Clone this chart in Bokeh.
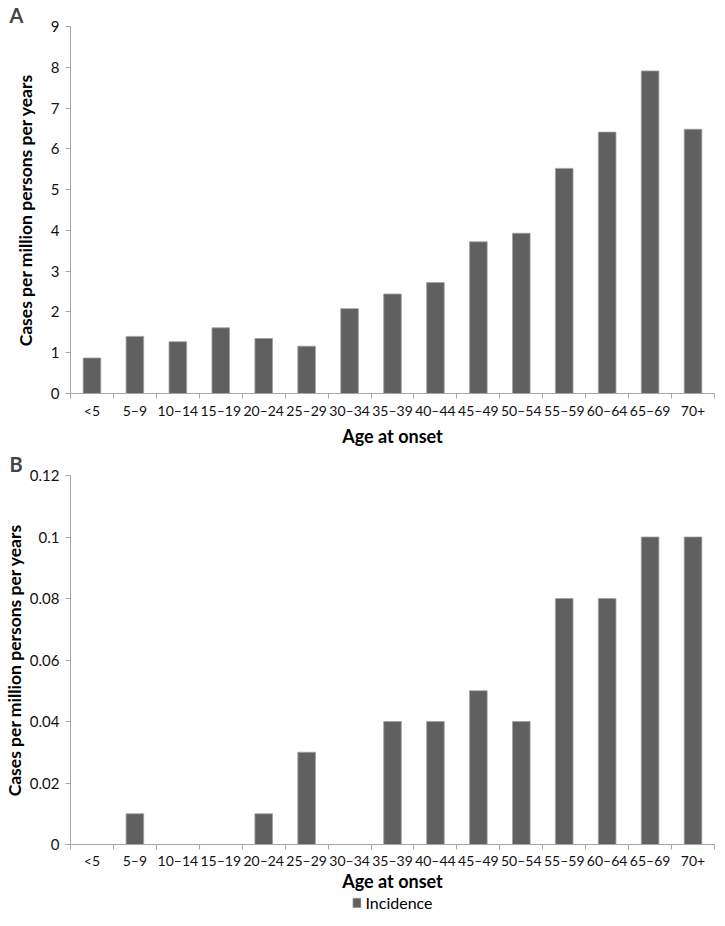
from bokeh.plotting import figure
from bokeh.layouts import column
from bokeh.models import FixedTicker, Legend, LegendItem, ColumnDataSource, Range1d, NumeralTickFormatter
from bokeh.embed import file_html
from bokeh.resources import INLINE

categories = ["<5", "5–9", "10–14", "15–19", "20–24", "25–29", "30–34", "35–39",
              "40–44", "45–49", "50–54", "55–59", "60–64", "65–69", "70+"]
incidence_a = [0.87, 1.40, 1.27, 1.61, 1.35, 1.16, 2.08, 2.44, 2.72, 3.72, 3.93, 5.52, 6.41, 7.91, 6.48]
incidence_b = [0.0, 0.01, 0.0, 0.0, 0.01, 0.03, 0.0, 0.04, 0.04, 0.05, 0.04, 0.08, 0.08, 0.10, 0.10]
yticks_a = [0, 1, 2, 3, 4, 5, 6, 7, 8, 9]
yticks_b = [0, 0.02, 0.04, 0.06, 0.08, 0.1, 0.12]
legend_label = "Incidence"

FONT = "Lato"
BAR = "#606060"
EDGE = "#a0a0a0"
AXIS = "#a6a6a6"
W = 717
N = len(categories)
CENTERS = [i + 0.5 for i in range(N)]


def make_panel(values, yticks, ymax, height, letter, fmt,
               lab_standoff, title_standoff, ytitle_standoff):
    src = ColumnDataSource(dict(x=CENTERS, top=values, cat=categories))
    p = figure(width=W, height=height, x_range=Range1d(0, N), y_range=Range1d(0, ymax),
               output_backend="svg", toolbar_location=None,
               min_border_left=61, min_border_right=3, min_border_top=0,
               min_border_bottom=0, title=letter)
    p.title.text_font = FONT
    p.title.text_font_style = "bold"
    p.title.text_font_size = "20px"
    p.title.text_line_height = 0.8
    p.title.align = "left"
    p.title.offset = -61
    p.title.standoff = 0
    r = p.vbar(x="x", top="top", width=0.41, source=src, fill_color=BAR,
               line_color=EDGE, line_width=0.8)
    p.grid.visible = False
    p.outline_line_color = None

    xa = p.xaxis[0]
    xa.ticker = FixedTicker(ticks=CENTERS, minor_ticks=list(range(N + 1)))
    xa.major_label_overrides = {c: lab for c, lab in zip(CENTERS, categories)}
    xa.major_tick_out = 0
    xa.major_tick_in = 0
    xa.minor_tick_out = 5
    xa.minor_tick_in = 0
    xa.minor_tick_line_color = AXIS
    xa.axis_line_color = AXIS
    xa.major_label_text_font = FONT
    xa.major_label_text_font_size = "14px"
    xa.major_label_text_color = "#111111"
    xa.major_label_text_line_height = 1.0
    xa.major_label_standoff = lab_standoff
    xa.axis_label = "Age at onset"
    xa.axis_label_text_font = FONT
    xa.axis_label_text_font_style = "bold"
    xa.axis_label_text_font_size = "18px"
    xa.axis_label_text_color = "#000000"
    xa.axis_label_text_line_height = 1.0
    xa.axis_label_standoff = title_standoff

    ya = p.yaxis[0]
    ya.ticker = FixedTicker(ticks=yticks)
    ya.formatter = NumeralTickFormatter(format=fmt)
    ya.minor_tick_line_color = None
    ya.major_tick_out = 5
    ya.major_tick_in = 0
    ya.major_tick_line_color = AXIS
    ya.axis_line_color = AXIS
    ya.major_label_text_font = FONT
    ya.major_label_text_font_size = "15px"
    ya.major_label_text_color = "#111111"
    ya.major_label_standoff = 6
    ya.axis_label = "Cases per million persons per years"
    ya.axis_label_text_font = FONT
    ya.axis_label_text_font_style = "bold"
    ya.axis_label_text_font_size = "17.5px"
    ya.axis_label_text_color = "#000000"
    ya.axis_label_text_line_height = 1.0
    ya.axis_label_standoff = ytitle_standoff
    return p, r


pa, ra = make_panel(incidence_a, yticks_a, 9, 449, "A", "0", 3, 3, 12)
pb, rb = make_panel(incidence_b, yticks_b, 0.12, 445, "B", "0.[00]", 2, -2, 2)

# legend strip below panel B (its bars lie far outside the strip's view; only the swatch shows)
pc = figure(width=W, height=16, x_range=Range1d(0, N), y_range=Range1d(100, 101),
            output_backend="svg", toolbar_location=None,
            min_border_left=61, min_border_right=3, min_border_top=0, min_border_bottom=0,
            x_axis_location=None, y_axis_location=None)
pc.grid.visible = False
pc.outline_line_color = None
swatch_src = ColumnDataSource(dict(x=CENTERS, top=incidence_b))
swatch = pc.vbar(x="x", top="top", width=0.41, source=swatch_src, fill_color=BAR,
                 line_color=EDGE, line_width=0.8)
leg = Legend(items=[LegendItem(label=legend_label, renderers=[swatch])], location="center",
             orientation="horizontal", border_line_color=None, padding=0, margin=0,
             background_fill_alpha=0, label_text_font=FONT, label_text_font_size="16px",
             label_text_color="#000000", glyph_width=10, glyph_height=12,
             label_standoff=4, label_height=16)
pc.add_layout(leg, "center")

layout = column(pa, pb, pc, spacing=0)
open("out.html", "w").write(file_html(layout, INLINE))
